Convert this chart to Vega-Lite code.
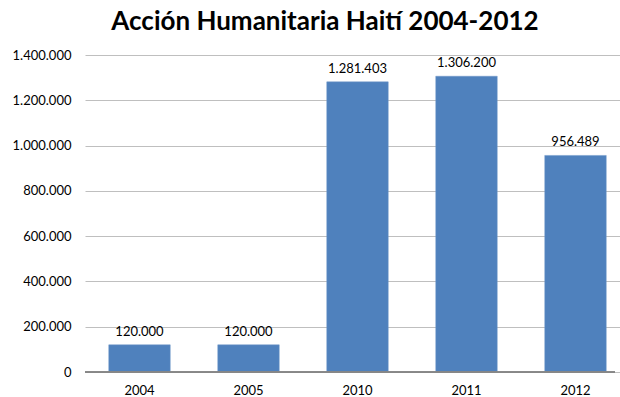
{
  "$schema": "https://vega.github.io/schema/vega-lite/v6.json",
  "width": 530,
  "height": 317,
  "autosize": "none",
  "padding": {"left": 85, "top": 55, "right": 5, "bottom": 25},
  "background": "white",
  "config": {
    "locale": {"number": {"decimal": ",", "thousands": ".", "grouping": [3], "currency": ["", " €"]}},
    "view": {"stroke": null},
    "font": "Lato"
  },
  "title": {
    "text": "Acción Humanitaria Haití 2004-2012",
    "fontSize": 26,
    "fontWeight": "bold",
    "font": "Lato",
    "color": "#000000",
    "anchor": "middle",
    "dx": -25,
    "offset": 14
  },
  "data": {
    "values": [
      {"year": "2004", "value": 120000},
      {"year": "2005", "value": 120000},
      {"year": "2010", "value": 1281403},
      {"year": "2011", "value": 1306200},
      {"year": "2012", "value": 956489}
    ]
  },
  "layer": [
    {
      "mark": {"type": "bar", "color": "#4F81BD", "stroke": "#6F97C8", "strokeWidth": 0.5},
      "encoding": {
        "x": {
          "field": "year",
          "type": "nominal",
          "scale": {"range": [0, 545], "paddingInner": 0.436, "paddingOuter": 0.218},
          "axis": {
            "title": null,
            "labelAngle": 0,
            "labelFontSize": 13,
            "labelColor": "#000000",
            "labelPadding": 12,
            "ticks": false,
            "domain": false
          }
        },
        "y": {
          "field": "value",
          "type": "quantitative",
          "scale": {"domain": [0, 1400000], "nice": false},
          "axis": {
            "title": null,
            "values": [0, 200000, 400000, 600000, 800000, 1000000, 1200000, 1400000],
            "format": ",d",
            "labelFontSize": 13,
            "labelColor": "#000000",
            "labelPadding": 14,
            "ticks": false,
            "domain": false,
            "grid": true,
            "gridColor": "#BFBFBF",
            "gridWidth": 1
          }
        }
      }
    },
    {
      "mark": {"type": "rule", "color": "#868686", "strokeWidth": 1},
      "encoding": {"y": {"datum": 0, "type": "quantitative"}}
    },
    {
      "mark": {"type": "text", "baseline": "bottom", "dy": -6, "fontSize": 13, "color": "#000000"},
      "encoding": {
        "x": {"field": "year", "type": "nominal"},
        "y": {"field": "value", "type": "quantitative"},
        "text": {"field": "value", "type": "quantitative", "format": ",d"}
      }
    }
  ]
}
